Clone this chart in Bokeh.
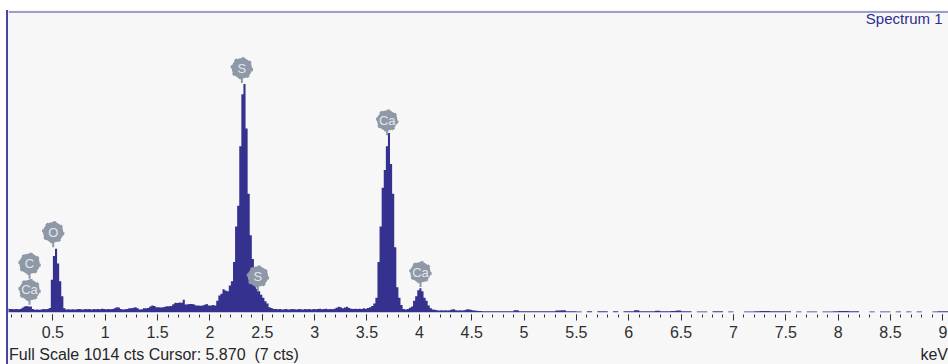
import numpy as np
from bokeh.plotting import figure
from bokeh.layouts import column
from bokeh.models import (Range1d, SingleIntervalTicker, PrintfTickFormatter, Label,
                          Span, ColumnDataSource, Div)
from bokeh.embed import file_html
from bokeh.resources import INLINE
from bokeh.core.properties import value

# ---------------- data ----------------
# main region: channels of 0.02 keV starting at 0.06 keV
main_start = 0.06
main_step = 0.02
main_counts = [
    # 0.06 - 0.46
    14, 12, 12, 11, 12, 11, 12, 16, 20, 22, 20, 20, 12, 9, 10, 9, 10, 12, 11, 12, 15,
    # 0.48 - 0.62 (O K)
    110, 190, 215, 165, 105, 55, 14, 10,
    # 0.64 - 0.98
    11, 10, 11, 10, 11, 12, 11, 10, 12, 11, 12, 10, 12, 11, 12, 11, 13, 12,
    # 1.00 - 2.08
    11, 12, 11, 12, 14, 18, 17, 12, 10, 11, 12, 14, 14, 16, 18, 14, 10, 11, 14, 14,
    15, 20, 24, 22, 18, 18, 17, 18, 19, 21, 21, 22, 28, 33, 32, 34, 33, 43, 27, 28,
    29, 29, 27, 24, 24, 23, 24, 26, 29, 24, 24, 25, 24, 40, 57,
    # 2.10 - 2.60 (S K)
    63, 78, 74, 72, 91, 105, 170, 290, 360, 560, 735, 770, 620, 400, 260, 180, 130,
    80, 72, 60, 50, 38, 30, 18, 15, 12,
    # 2.62 - 3.54
    12, 11, 12, 10, 11, 12, 10, 11, 12, 11, 10, 12, 11, 10, 12, 11, 12, 10, 12,
    11, 12, 13, 11, 12, 13, 11, 12, 11, 13, 16, 19, 18, 14, 17, 19, 15, 13, 12, 13,
    12, 13, 12, 14, 13, 15, 18, 22,
    # 3.56 - 4.14 (Ca K)
    30, 50, 170, 290, 420, 480, 560, 605, 500, 400, 220, 85, 50, 25, 12, 10, 12, 16,
    20, 40, 55, 75, 82, 72, 50, 40, 24, 14, 10, 9,
    # 4.16 - 4.58
    8, 7, 8, 7, 8, 7, 8, 10, 11, 8, 7, 8, 7, 8, 10, 11, 9, 8, 7, 6, 5, 5,
]
# tail region: channels of 0.05 keV starting at 4.60 keV
tail_start = 4.60
tail_step = 0.05
tail_counts = [
    4, 4, 4, 4, 4, 4, 8, 4, 4, 4, 4, 4, 4, 4, 7, 8, 4, 4,
    3, 0, 4, 0, 4, 4, 0, 4, 0, 4,
    4, 8, 4, 4, 4, 6, 4, 4, 5, 7, 4, 4, 0, 3, 3, 0, 4, 4, 0, 3,
    0, 0, 3, 3, 4, 5, 5, 4, 4, 4, 4, 0, 3, 0, 3, 3, 0, 3, 3, 4,
    5, 5, 4, 4, 0, 0, 3, 0, 3, 3, 0, 3, 0, 3, 0, 3, 0, 0, 3, 4, 4, 4,
]

# element markers: energy (keV), label, height of marker centre (cts)
marker_keV = [0.277, 0.277, 0.503, 2.305, 2.458, 3.693, 4.011]
marker_label = ["Ca", "C", "O", "S", "S", "Ca", "Ca"]
marker_cts = [76, 164, 270, 823, 121, 647, 136]

full_scale = 1014
x_start, x_end = 0.076, 9.054
status_text = "Full Scale 1014 cts Cursor: 5.870&nbsp; (7 cts)"
unit_text = "keV"
spectrum_title = "Spectrum 1"

# ---------------- styles ----------------
FILL = "#35318e"
BORDER = "#4646a6"
GRAY = "#8e98a6"
BG = "#f7f7f7"
FONT = "Liberation Sans"

edges = np.concatenate([
    main_start + main_step * np.arange(len(main_counts)),
    tail_start + tail_step * np.arange(len(tail_counts)),
])
counts = np.array(main_counts + tail_counts, dtype=float)
xs = np.append(edges, edges[-1] + tail_step)
ys = np.append(counts, counts[-1])

p = figure(width=940, height=335, x_range=Range1d(x_start, x_end),
           y_range=Range1d(0, full_scale), output_backend="svg",
           toolbar_location=None, y_axis_location=None,
           min_border_left=0, min_border_right=0, min_border_top=1,
           min_border_bottom=33)
p.xgrid.visible = False
p.ygrid.visible = False
p.outline_line_color = None
p.background_fill_color = BG
p.border_fill_color = BG

p.varea_step(x=xs, y1=np.zeros_like(ys), y2=ys, step_mode="after", fill_color=FILL)

ax = p.xaxis[0]
ax.ticker = SingleIntervalTicker(interval=0.5, num_minor_ticks=5)
ax.formatter = PrintfTickFormatter(format="%g")
ax.axis_line_color = None
ax.major_tick_in = -2
ax.major_tick_out = 8
ax.minor_tick_in = -2
ax.minor_tick_out = 5
ax.major_tick_line_color = "#333333"
ax.minor_tick_line_color = "#333333"
ax.major_label_text_font = FONT
ax.major_label_text_font_size = "16px"
ax.major_label_text_color = "#2f2f2f"
ax.major_label_standoff = 5

p.add_layout(Span(location=full_scale, dimension="width", line_color=BORDER, line_width=2))

src = ColumnDataSource(dict(x=marker_keV, y=marker_cts,
                            y0=[c - 50 for c in marker_cts], label=marker_label))
p.segment(x0="x", y0="y", x1="x", y1="y0", source=src, line_color=GRAY, line_width=2)
p.scatter(x="x", y="y", source=src, size=20.5, marker="circle", fill_color=GRAY,
          line_color=GRAY, line_width=2, line_dash="3 5")
p.text(x="x", y="y", text="label", source=src, text_align="center",
       text_baseline="middle", text_color="#e2e6eb", text_font=value(FONT),
       text_font_size="13px")

p.add_layout(Label(x=934, y=294, x_units="screen", y_units="screen", text=spectrum_title,
                   text_font=FONT, text_font_size="15px", text_color="#2d2d8f",
                   text_align="right", text_baseline="middle"))

d = Div(text=(
    '<div style="position:relative;width:940px;height:19px;'
    'font-family:\'Liberation Sans\';font-size:16px;line-height:19px;color:#262626;">'
    '<span style="position:absolute;left:1px;top:0;white-space:pre;">' + status_text + '</span>'
    '<span style="position:absolute;right:0;top:0;">' + unit_text + '</span></div>'),
    width=940, height=19, margin=0, styles={"background-color": BG})

layout = column(p, d, spacing=0, margin=(10, 0, 0, 8),
                styles={"box-shadow": "-2px 0 0 0 " + BORDER, "background-color": BG})

open("out.html", "w").write(file_html(layout, INLINE))
